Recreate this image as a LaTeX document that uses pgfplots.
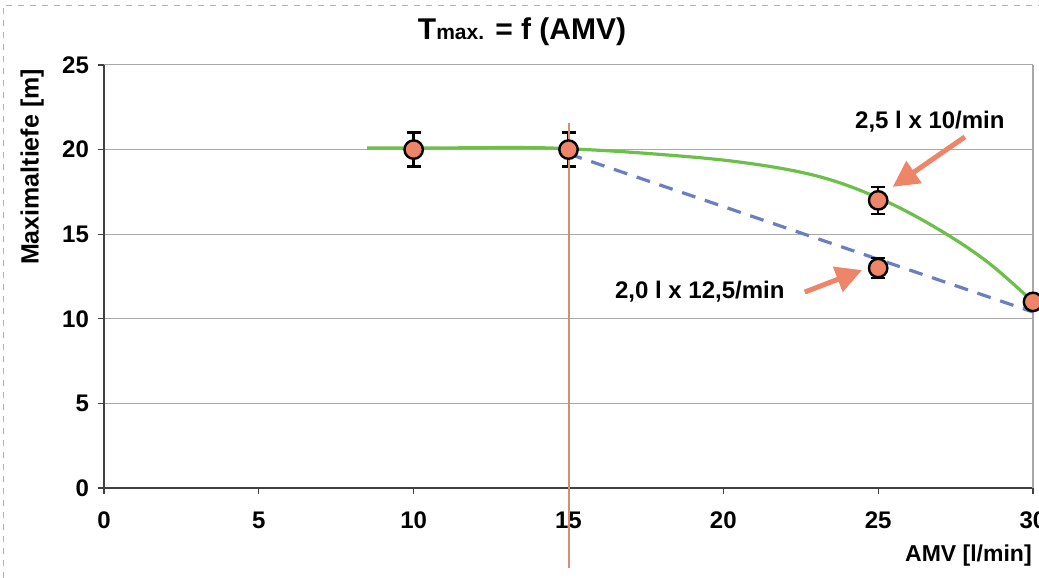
\documentclass[border=0pt]{standalone}
\usepackage{fontspec}
\setmainfont{Liberation Sans}
\usepackage{pgfplots}
\pgfplotsset{compat=1.18}
\usetikzlibrary{arrows.meta,calc}
\definecolor{salmon}{HTML}{EE8468}
\definecolor{fitgreen}{HTML}{6CC04A}
\definecolor{dashblue}{HTML}{6A7FC2}
\definecolor{vline}{HTML}{D98A78}
\definecolor{gridgray}{HTML}{A8A8A8}
\newcommand{\lbl}{\fontsize{12}{14}\selectfont\bfseries}

\begin{document}
\begin{tikzpicture}
\begin{axis}[
  scale only axis, width=464.5pt, height=211.5pt,
  xmin=0, xmax=30, ymin=0, ymax=25,
  xtick={0,5,...,30}, ytick={0,5,...,25},
  axis lines*=left,
  ymajorgrids, grid style={gridgray,line width=0.5pt},
  tick align=outside, major tick length=3pt,
  axis line style={black!75,line width=0.7pt},
  tick style={black!75,line width=0.6pt},
  /pgf/number format/assume math mode=true,
  tick label style={font=\lbl},
  xticklabel style={yshift=-5.5pt}, yticklabel style={xshift=-1pt},
  clip=false,
]
\coordinate (o) at (rel axis cs:0,0);
\draw[gridgray,line width=0.6pt] (rel axis cs:1,0) -- (rel axis cs:1,1);

% fitted curves
\addplot[fitgreen, line width=1.6pt, smooth, tension=0.6] coordinates {
 (8.5,20.1) (11,20.1) (13.5,20.12) (15,20.05) (17.5,19.78)
 (20.5,19.27) (23,18.45) (25,17.15) (26.8,15.45) (28.5,13.4) (30,11)};
\addplot[dashblue, line width=1.6pt, dash pattern=on 7pt off 5pt] coordinates {(15,19.75) (30,10.4)};

% measured points
\addplot[only marks, mark=*, mark size=4.6pt,
  mark options={fill=salmon, draw=black, line width=1.2pt},
  error bars/.cd, y dir=both, y explicit, error mark=|,
  error bar style={black, line width=1.2pt},
  error mark options={black, mark size=3.5pt, line width=1.2pt}]
  coordinates {(10,20) +- (0,1) (15,20) +- (0,1) (25,17) +- (0,0.8) (25,13) +- (0,0.6) (30,11) +- (0,0)};

% vertical marker line at 15 l/min
\addplot[vline, line width=1pt] coordinates {(15,21.6) (15,-4.7)};

% annotations
\draw[salmon, line width=2.5pt, -{Triangle[length=13pt,width=13pt]}] (axis cs:27.8,20.75) -- (axis cs:25.47,17.8);
\draw[salmon, line width=2.5pt, -{Triangle[length=13pt,width=13pt]}] (axis cs:22.63,11.58) -- (axis cs:24.48,12.88);
\node[font=\lbl] at (axis cs:26.67,21.63) {2,5 l x 10/min};
\node[font=\lbl] at (axis cs:19.24,11.58) {2,0 l x 12,5/min};

\node[font=\fontsize{15}{17}\selectfont\bfseries] at (axis cs:13.5,26.95)
  {T{\fontsize{10.5}{12}\selectfont max.} = f (AMV)};
\node[font=\fontsize{12.5}{14}\selectfont\bfseries, rotate=90] at (axis cs:-2.32,18.97) {Maximaltiefe [m]};
\node[font=\fontsize{11.5}{14}\selectfont\bfseries, anchor=west, inner sep=0pt] at (axis cs:25.86,-4.02) {AMV [l/min]};
\end{axis}
\pgfresetboundingbox
\path[use as bounding box] ($(o)+(-52pt,-45pt)$) rectangle ($(o)+(467.5pt,244pt)$);
\draw[gray!60, dashed, line width=0.4pt] ($(o)+(-50.5pt,-45pt)$) -- ($(o)+(-50.5pt,241.5pt)$) -- ($(o)+(467.5pt,241.5pt)$);
\end{tikzpicture}
\end{document}
